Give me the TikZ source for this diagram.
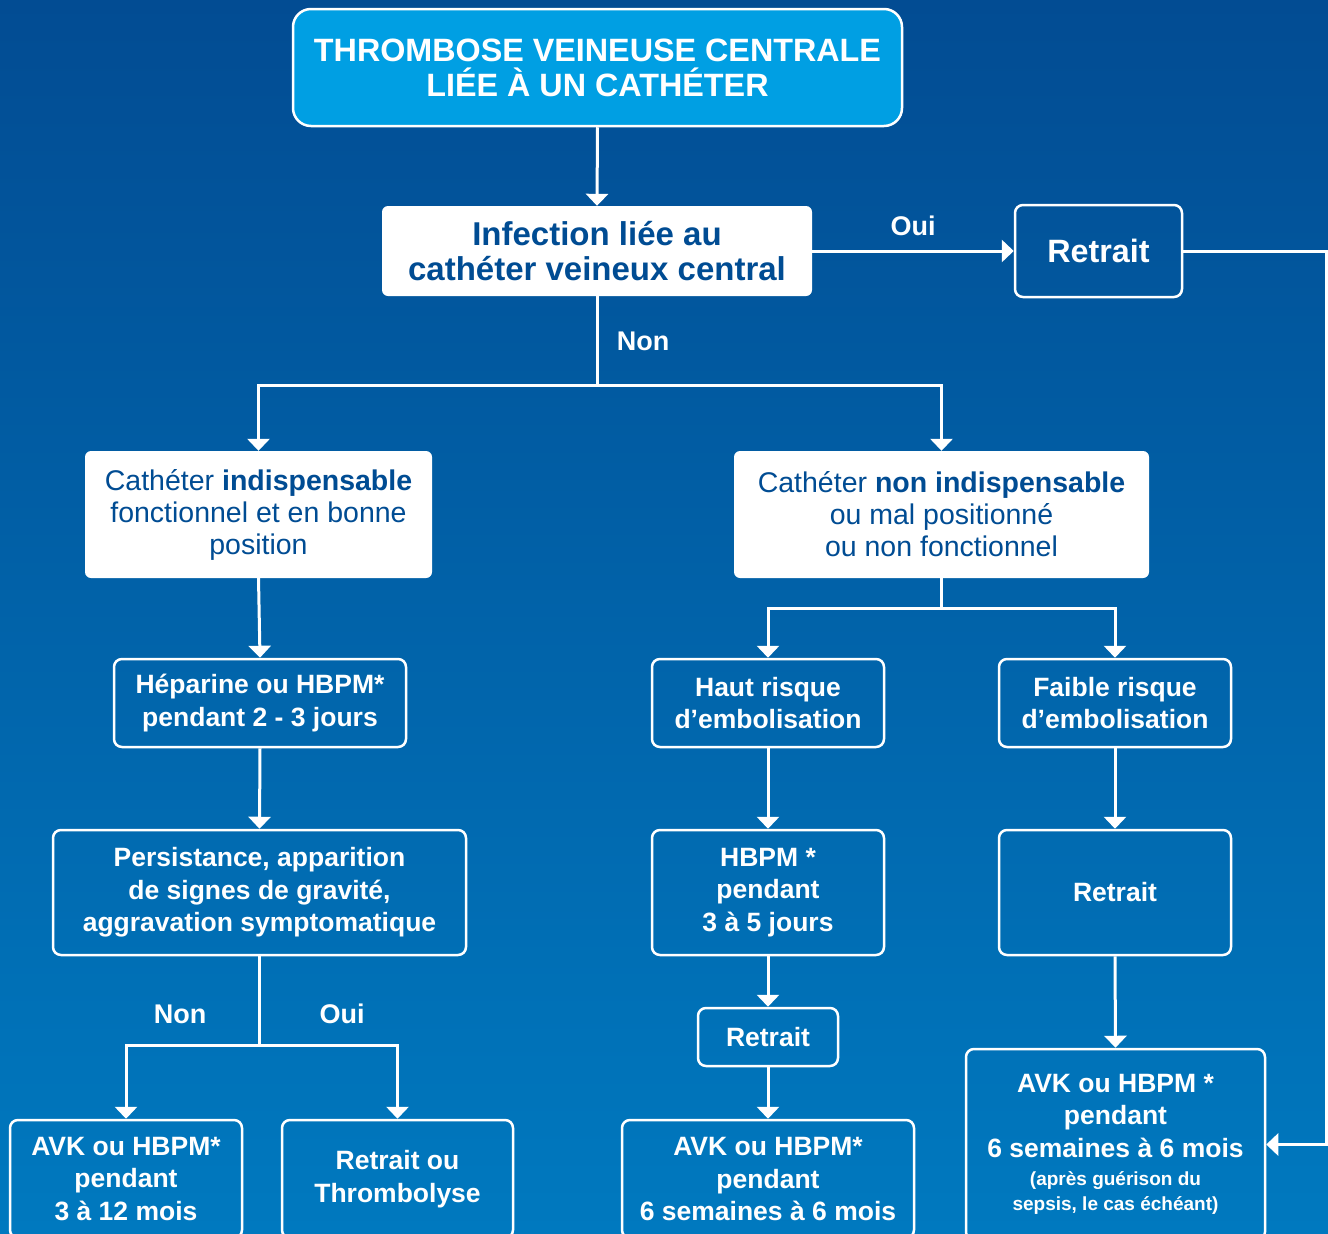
\documentclass[tikz,border=0pt]{standalone}
\usepackage{fontspec}
\setmainfont{Liberation Sans}
\usetikzlibrary{arrows.meta}
\definecolor{bgtop}{HTML}{024C93}
\definecolor{bgbot}{HTML}{0079BF}
\definecolor{titlefill}{HTML}{009FE3}
\definecolor{dblue}{HTML}{004C93}
\newcommand{\fsT}{\fontsize{32.3}{35}\selectfont\bfseries}
\newcommand{\fsI}{\fontsize{33}{35}\selectfont\bfseries}
\newcommand{\fsR}{\fontsize{28.5}{32}\selectfont}
\newcommand{\fsB}{\fontsize{26.5}{32.5}\selectfont\bfseries}
\newcommand{\fsS}{\fontsize{19}{25}\selectfont\bfseries}
\begin{document}
\begin{tikzpicture}[x=1pt,y=-1pt,
  wbox/.style={fill=white, rounded corners=6pt, text=dblue, align=center, inner sep=0pt},
  obox/.style={draw=white, line width=2.5pt, rounded corners=8pt, text=white, align=center, inner sep=0pt, font=\fsB},
  tbox/.style={draw=white, line width=2.5pt, fill=titlefill, rounded corners=18pt, text=white, align=center, inner sep=0pt, font=\fsT},
  ln/.style={draw=white, line width=3pt},
  arr/.style={draw=white, line width=3pt, -{Triangle[width=22pt,length=12pt]}},
  lab/.style={text=white, font=\fontsize{27}{30}\selectfont\bfseries, inner sep=0pt}
]
\useasboundingbox (0,0) rectangle (1328,1234);
\shade[top color=bgtop, bottom color=bgbot] (0,0) rectangle (1328,1234);

% nodes
\node[tbox, minimum width=609pt, minimum height=117pt] (title) at (597.5,67.5)
  {THROMBOSE VEINEUSE CENTRALE\\LIÉE À UN CATHÉTER};
\node[wbox, font=\fsI, minimum width=430pt, minimum height=90pt] (inf) at (597,251)
  {Infection liée au\\cathéter veineux central};
\node[obox, font=\fsT, minimum width=167pt, minimum height=92pt] (rt) at (1098.5,251) {Retrait};
\node[wbox, font=\fsR, minimum width=347pt, minimum height=127pt] (ci) at (258.5,514.5)
  {Cathéter \textbf{indispensable}\\fonctionnel et en bonne\\position};
\node[wbox, font=\fsR, minimum width=415pt, minimum height=127pt] (cn) at (941.5,514.5)
  {Cathéter \textbf{non indispensable}\\ou mal positionné\\ou non fonctionnel};
\node[obox, minimum width=292pt, minimum height=88pt] (hep) at (260,703)
  {Héparine ou HBPM*\\pendant 2 - 3 jours};
\node[obox, minimum width=232pt, minimum height=88pt] (haut) at (768,703)
  {Haut risque\\d’embolisation};
\node[obox, minimum width=232pt, minimum height=88pt] (faible) at (1115,703)
  {Faible risque\\d’embolisation};
\node[obox, minimum width=413pt, minimum height=125pt] (pers) at (259.5,892.5)
  {Persistance, apparition\\de signes de gravité,\\aggravation symptomatique};
\node[obox, minimum width=232pt, minimum height=125pt] (hbpm) at (768,892.5)
  {HBPM *\\pendant\\3 à 5 jours};
\node[obox, minimum width=232pt, minimum height=125pt] (rr) at (1115,892.5) {Retrait};
\node[obox, minimum width=140pt, minimum height=58pt] (rm) at (768,1037) {Retrait};
\node[obox, minimum width=232pt, minimum height=118pt] (avkl) at (126,1179)
  {AVK ou HBPM*\\pendant\\3 à 12 mois};
\node[obox, minimum width=231pt, minimum height=118pt] (rot) at (397.5,1179)
  {Retrait ou\\Thrombolyse};
\node[obox, minimum width=292pt, minimum height=118pt] (avkm) at (768,1179)
  {AVK ou HBPM*\\pendant\\6 semaines à 6 mois};
\node[obox, minimum width=299pt, minimum height=191pt] (avkr) at (1115.5,1144.5)
  {AVK ou HBPM *\\pendant\\6 semaines à 6 mois\\[-4pt]{\fsS (après guérison du}\\[-7.5pt]{\fsS sepsis, le cas échéant)}};

% labels
\node[lab] (l1) at (913,226) {Oui};
\node[lab] (l2) at (643,341) {Non};
\node[lab] (l3) at (180,1014) {Non};
\node[lab] (l4) at (342,1014) {Oui};

% junctions
\coordinate (j1) at (597,385);
\coordinate (j2) at (941.5,608);
\coordinate (j3) at (259.5,1045);
\coordinate (cr) at (1326,251);

% connectors
\draw[arr] (title.south) -- (inf.north);
\draw[arr] (inf.east) -- (rt.west);
\draw[arr] (rt.east) -- (cr) |- (avkr.east);
\draw[ln] (inf.south) -- (j1);
\draw[arr] (j1) -| (ci.north);
\draw[arr] (j1) -| (cn.north);
\draw[arr] (ci.south) -- (hep.north);
\draw[arr] (hep.south) -- (pers.north);
\draw[ln] (pers.south) -- (j3);
\draw[arr] (j3) -| (avkl.north);
\draw[arr] (j3) -| (rot.north);
\draw[ln] (cn.south) -- (j2);
\draw[arr] (j2) -| (haut.north);
\draw[arr] (j2) -| (faible.north);
\draw[arr] (haut.south) -- (hbpm.north);
\draw[arr] (hbpm.south) -- (rm.north);
\draw[arr] (rm.south) -- (avkm.north);
\draw[arr] (faible.south) -- (rr.north);
\draw[arr] (rr.south) -- (avkr.north);
\end{tikzpicture}
\end{document}
